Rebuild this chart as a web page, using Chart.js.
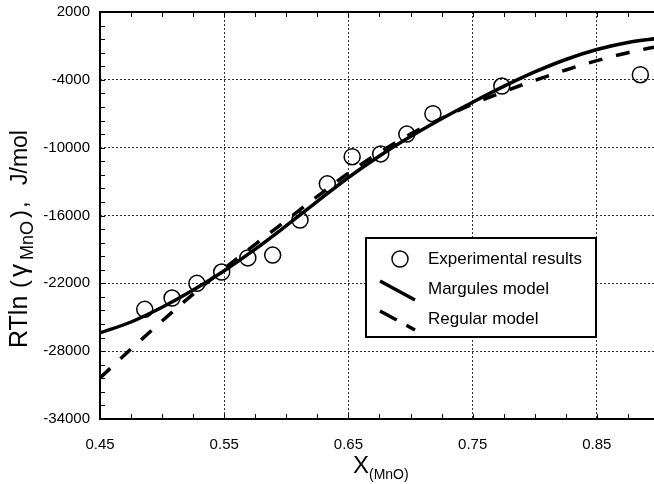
<!DOCTYPE html>
<html>
<head>
<meta charset="utf-8">
<script src="https://cdn.jsdelivr.net/npm/chart.js@4.4.1/dist/chart.umd.min.js"></script>
<style>
html, body { margin: 0; padding: 0; background: #fff; }
#wrap { width: 654px; height: 484px; position: relative; }
</style>
</head>
<body>
<div id="wrap"><canvas id="chart"></canvas></div>
<script>
const FONT = '"Liberation Sans", Arial, Helvetica, sans-serif';

// mole fraction grid for the model curves
const xModel = [0.45, 0.475, 0.50, 0.525, 0.55, 0.575, 0.60, 0.625, 0.65, 0.675,
                0.70, 0.725, 0.75, 0.775, 0.80, 0.825, 0.85, 0.875, 0.90];
// Margules model, RTln(gamma), J/mol
const margulesY = [-26390, -25420, -24120, -22600, -20880, -18980, -16900, -14750, -12640, -10740,
                   -9020, -7440, -5980, -4580, -3300, -2200, -1320, -700, -320];
// Regular solution model
const regularY = [-30370, -27810, -25330, -22950, -20700, -18550, -16430, -14310, -12250, -10420,
                  -8800, -7400, -6150, -5050, -4050, -3130, -2300, -1600, -1020];
// experimental results
const expX = [0.486, 0.508, 0.528, 0.548, 0.569, 0.589, 0.611, 0.633, 0.653, 0.676, 0.697, 0.718, 0.7735, 0.885];
const expY = [-24300, -23300, -22000, -21000, -19750, -19500, -16400, -13200, -10800, -10550, -8800, -7000, -4550, -3550];

const xTicks = [0.45, 0.55, 0.65, 0.75, 0.85];
const yTicks = [-34000, -28000, -22000, -16000, -10000, -4000, 2000];

const legendItems = ['Experimental results', 'Margules model', 'Regular model'];

const toPoints = (xs, ys) => xs.map((x, i) => ({ x: x, y: ys[i] }));

// frame, minor ticks, axis titles and legend
const decorPlugin = {
    id: 'decor',
    afterDraw(chart) {
        const { ctx, chartArea: a, scales: { x, y } } = chart;
        ctx.save();

        // frame (left, top, bottom)
        ctx.strokeStyle = '#000';
        ctx.lineWidth = 2;
        ctx.beginPath();
        ctx.moveTo(a.right + 2, a.top);
        ctx.lineTo(a.left, a.top);
        ctx.lineTo(a.left, a.bottom);
        ctx.lineTo(a.right + 2, a.bottom);
        ctx.stroke();

        // minor ticks
        ctx.lineWidth = 1;
        ctx.beginPath();
        for (let v = -34000; v <= 2000; v += 1200) {
            const py = Math.round(y.getPixelForValue(v)) + 0.5;
            ctx.moveTo(a.left, py);
            ctx.lineTo(a.left + 5, py);
        }
        for (let v = 0.45; v <= x.max; v += 0.025) {
            const px = Math.round(x.getPixelForValue(v)) + 0.5;
            ctx.moveTo(px, a.bottom);
            ctx.lineTo(px, a.bottom - 5);
            ctx.moveTo(px, a.top);
            ctx.lineTo(px, a.top + 5);
        }
        ctx.stroke();

        ctx.fillStyle = '#000';
        ctx.textBaseline = 'alphabetic';
        ctx.textAlign = 'left';

        // x title
        ctx.font = '24px ' + FONT;
        ctx.fillText('X', 353, 473);
        ctx.font = '14px ' + FONT;
        ctx.fillText('(MnO)', 369, 479);

        // y title, rotated
        ctx.save();
        ctx.translate(27, 348);
        ctx.rotate(-Math.PI / 2);
        const parts = [
            ['RTln', 0, 25, 0],
            ['(', 60, 24, 0],
            ['\u03B3', 71, 26, 0],
            ['MnO', 88, 18, 6],
            [')', 130, 24, 0],
            [',', 140, 24, 0],
            ['J/mol', 163, 23, 0]
        ];
        parts.forEach(([t, s, size, dy]) => {
            ctx.font = size + 'px ' + FONT;
            ctx.fillText(t, s, dy);
        });
        ctx.restore();

        // legend box
        const bx = 366, by = 238, bw = 230, bh = 99;
        ctx.fillStyle = '#fff';
        ctx.fillRect(bx, by, bw, bh);
        ctx.strokeStyle = '#000';
        ctx.lineWidth = 2;
        ctx.strokeRect(bx, by, bw, bh);

        ctx.lineWidth = 1.5;
        ctx.beginPath();
        ctx.arc(400, 259, 8, 0, Math.PI * 2);
        ctx.stroke();

        ctx.lineWidth = 3.5;
        ctx.beginPath();
        ctx.moveTo(380, 281);
        ctx.lineTo(415, 300);
        ctx.stroke();

        ctx.setLineDash([19, 11]);
        ctx.beginPath();
        ctx.moveTo(380, 311);
        ctx.lineTo(415, 330);
        ctx.stroke();
        ctx.setLineDash([]);

        ctx.fillStyle = '#000';
        ctx.font = '17px ' + FONT;
        ctx.fillText(legendItems[0], 428, 264);
        ctx.fillText(legendItems[1], 428, 294);
        ctx.fillText(legendItems[2], 428, 324);

        ctx.restore();
    }
};

const gridStyle = {
    color: 'rgba(0,0,0,0.8)',
    lineWidth: 1,
    drawTicks: false
};

new Chart(document.getElementById('chart'), {
    type: 'scatter',
    data: {
        datasets: [
            {
                type: 'line',
                label: legendItems[1],
                data: toPoints(xModel, margulesY),
                borderColor: '#000',
                borderWidth: 3.5,
                pointRadius: 0,
                fill: false,
                cubicInterpolationMode: 'monotone'
            },
            {
                type: 'line',
                label: legendItems[2],
                data: toPoints(xModel, regularY),
                borderColor: '#000',
                borderWidth: 3.5,
                borderDash: [14, 14],
                pointRadius: 0,
                fill: false,
                cubicInterpolationMode: 'monotone'
            },
            {
                label: legendItems[0],
                data: toPoints(expX, expY),
                pointStyle: 'circle',
                pointRadius: 8,
                pointBorderWidth: 1.5,
                pointBorderColor: '#000',
                pointBackgroundColor: 'rgba(0,0,0,0)',
                showLine: false
            }
        ]
    },
    options: {
        responsive: true,
        maintainAspectRatio: false,
        animation: false,
        layout: { autoPadding: false, padding: { top: 12, right: 0, bottom: 0, left: 0 } },
        plugins: {
            legend: { display: false },
            tooltip: { enabled: false }
        },
        scales: {
            x: {
                type: 'linear',
                min: 0.45,
                max: 0.896,
                afterBuildTicks: (s) => { s.ticks = xTicks.map(v => ({ value: v })); },
                afterFit: (s) => { s.height = 65; s.paddingLeft = 0; s.paddingRight = 0; },
                grid: gridStyle,
                border: { display: false, dash: [2, 2] },
                ticks: {
                    color: '#000',
                    padding: 17,
                    font: { family: FONT, size: 15 },
                    callback: (v) => v.toFixed(2)
                }
            },
            y: {
                type: 'linear',
                min: -34000,
                max: 2000,
                afterBuildTicks: (s) => { s.ticks = yTicks.map(v => ({ value: v })); },
                afterFit: (s) => { s.width = 100; s.paddingTop = 0; s.paddingBottom = 0; },
                grid: gridStyle,
                border: { display: false, dash: [2, 2] },
                ticks: {
                    color: '#000',
                    padding: 10,
                    font: { family: FONT, size: 15 },
                    callback: (v) => String(v)
                }
            }
        }
    },
    plugins: [decorPlugin]
});
</script>
</body>
</html>
